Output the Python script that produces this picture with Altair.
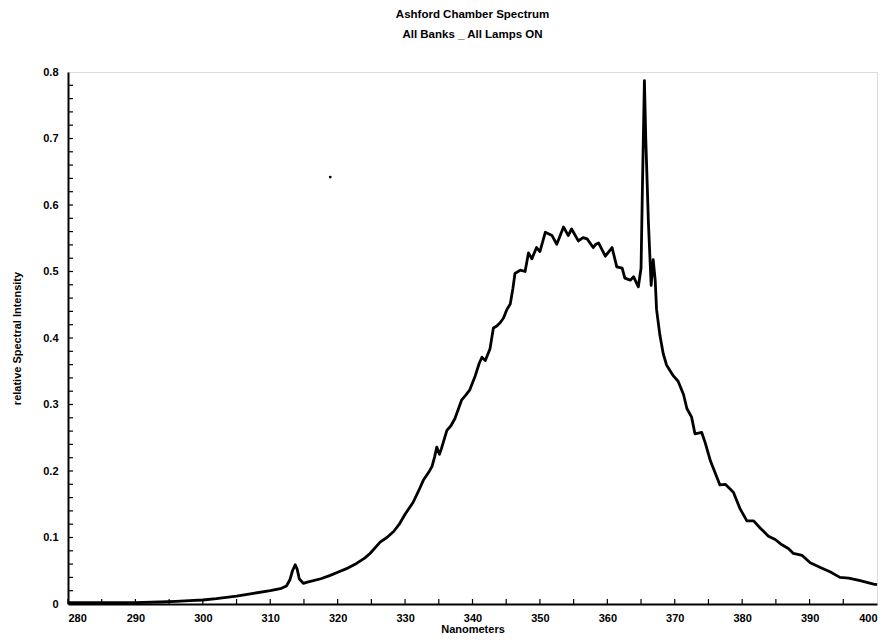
import altair as alt
import pandas as pd

# ---- data ----
wavelength = [
    280.0, 283.0, 286.0, 290.0, 293.6, 296.0, 298.0, 300.0, 302.0, 305.0,
    307.5, 310.0, 311.5, 312.4, 312.9, 313.3, 313.7, 314.0, 314.3, 314.9,
    315.5, 316.4, 317.5, 318.9, 320.1, 321.5, 322.8, 324.0, 324.8, 326.3,
    327.3, 328.3, 329.2, 330.0, 331.2, 332.0, 332.7, 333.5, 334.0, 334.4,
    334.7, 335.1, 335.4, 336.2, 336.8, 337.4, 338.4, 339.0, 339.6, 340.4,
    341.0, 341.4, 341.9, 342.6, 343.1, 343.6, 344.1, 344.6, 345.1, 345.6,
    346.0, 346.3, 347.1, 347.8, 348.3, 348.8, 349.5, 350.0, 350.8, 351.8,
    352.5, 353.5, 354.2, 354.7, 355.7, 356.4, 357.0, 357.9, 358.3, 358.7,
    359.7, 360.7, 361.4, 362.2, 362.6, 363.4, 363.9, 364.6, 365.0, 365.2,
    365.5, 365.7, 366.1, 366.5, 366.8, 367.1, 367.3, 367.8, 368.3, 368.8,
    369.8, 370.5, 371.3, 371.8, 372.5, 373.0, 374.0, 374.5, 375.3, 376.0,
    376.7, 377.5, 378.7, 379.7, 380.7, 381.7, 382.7, 383.9, 384.9, 385.9,
    386.9, 387.6, 388.9, 390.1, 391.6, 393.1, 394.5, 395.8, 397.5, 399.5,
    400.0,
]
intensity = [
    0.002, 0.002, 0.002, 0.002, 0.003, 0.004, 0.005, 0.006, 0.008, 0.012,
    0.016, 0.020, 0.023, 0.027, 0.036, 0.050, 0.059, 0.052, 0.038, 0.031,
    0.033, 0.035, 0.038, 0.043, 0.048, 0.054, 0.061, 0.069, 0.076, 0.093,
    0.100, 0.109, 0.121, 0.135, 0.153, 0.170, 0.186, 0.198, 0.207, 0.222,
    0.236, 0.225, 0.234, 0.261, 0.268, 0.279, 0.307, 0.314, 0.322, 0.343,
    0.362, 0.371, 0.366, 0.384, 0.415, 0.418, 0.423, 0.430, 0.443, 0.451,
    0.475, 0.497, 0.502, 0.500, 0.528, 0.519, 0.536, 0.530, 0.559, 0.554,
    0.541, 0.567, 0.554, 0.564, 0.546, 0.551, 0.549, 0.536, 0.541, 0.543,
    0.523, 0.536, 0.507, 0.505, 0.490, 0.487, 0.492, 0.477, 0.505, 0.623,
    0.787, 0.700, 0.572, 0.479, 0.518, 0.487, 0.443, 0.404, 0.376, 0.359,
    0.343, 0.335, 0.315, 0.294, 0.281, 0.256, 0.258, 0.243, 0.215, 0.197,
    0.179, 0.180, 0.168, 0.143, 0.125, 0.125, 0.114, 0.102, 0.097, 0.089,
    0.083, 0.076, 0.073, 0.062, 0.055, 0.048, 0.040, 0.039, 0.035, 0.030,
    0.029,
]
stray_x = [318.9]
stray_y = [0.642]

x_label_values = [280, 290, 300, 310, 320, 330, 340, 350, 360, 370, 380, 390, 400]
y_label_values = [0, 0.1, 0.2, 0.3, 0.4, 0.5, 0.6, 0.7, 0.8]
x_tick_values = [280, 285, 290, 295, 300, 305, 310, 315, 320, 325, 330, 335, 340,
                 345, 350, 355, 360, 365, 370, 375, 380, 385, 390, 395]
y_tick_values = [round(i * 0.02, 2) for i in range(1, 40)]

title_lines = ["Ashford Chamber Spectrum", "All Banks _ All Lamps ON"]
x_title = "Nanometers"
y_title = "relative Spectral Intensity"

FONT = "Liberation Sans, Arial, sans-serif"
W, H = 809, 532

df = pd.DataFrame({"nm": wavelength, "val": intensity})
stray = pd.DataFrame({"nm": stray_x, "val": stray_y})
xt = pd.DataFrame({"nm": x_tick_values})
yt = pd.DataFrame({"val": y_tick_values})

xscale = alt.Scale(domain=[280, 400], nice=False, zero=False)
yscale = alt.Scale(domain=[0, 0.8], nice=False)

line = alt.Chart(df).mark_line(color="black", strokeWidth=2.8, strokeJoin="round").encode(
    x=alt.X("nm:Q", scale=xscale,
            axis=alt.Axis(values=x_label_values, title=x_title, grid=False, ticks=False,
                          labelPadding=8, labelFont=FONT, labelFontSize=11,
                          labelFontWeight="bold", labelColor="black",
                          titleFont=FONT, titleFontSize=11, titleFontWeight="bold",
                          titleColor="black", titlePadding=0,
                          domainColor="black", domainWidth=2)),
    y=alt.Y("val:Q", scale=yscale,
            axis=alt.Axis(values=y_label_values, title=y_title, grid=False, ticks=False,
                          labelExpr="datum.value == 0 ? '0' : format(datum.value, '.1f')",
                          labelPadding=10, labelFont=FONT, labelFontSize=11,
                          labelFontWeight="bold", labelColor="black",
                          titleFont=FONT, titleFontSize=11, titleFontWeight="bold",
                          titleColor="black", titlePadding=20,
                          domainColor="black", domainWidth=2)),
)

xticks = alt.Chart(xt).mark_rule(color="black", strokeWidth=1.2).encode(
    x=alt.X("nm:Q", scale=xscale),
    y=alt.value(H),
    y2=alt.value(H - 5),
)
yticks = alt.Chart(yt).mark_rule(color="black", strokeWidth=1.2).encode(
    y=alt.Y("val:Q", scale=yscale),
    x=alt.value(0),
    x2=alt.value(5),
)
dot = alt.Chart(stray).mark_circle(color="black", size=8, opacity=1).encode(
    x=alt.X("nm:Q", scale=xscale),
    y=alt.Y("val:Q", scale=yscale),
)

chart = alt.layer(line, xticks, yticks, dot).properties(
    width=W,
    height=H,
    title=alt.Title(text=title_lines, font=FONT, fontSize=11.5, fontWeight="bold",
                    color="black", anchor="middle", offset=26, lineHeight=20),
    autosize=alt.AutoSizeParams(type="none"),
    padding={"left": 60, "top": 64, "right": 4, "bottom": 32},
).configure_view(stroke="#333333", strokeWidth=1.2).configure(background="white")

chart.save("out.html", embed_options={"renderer": "svg", "actions": False})
